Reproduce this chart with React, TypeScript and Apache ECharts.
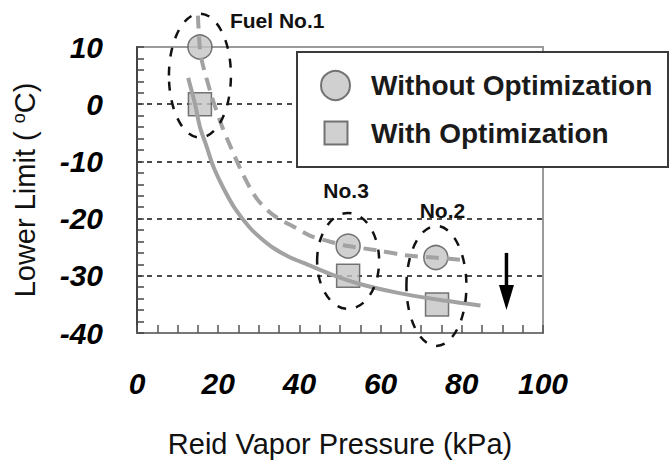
import React, { useEffect, useRef } from 'react';
import * as echarts from 'echarts';

const FONT = 'Arial, "Liberation Sans", Helvetica, sans-serif';

// Fuel labels
const fuelNames = ['Fuel No.1', 'No.3', 'No.2'];
// Measured points: [Reid vapor pressure (kPa), lower limit (°C)]
const withoutOpt = [
  [15.5, 10],
  [52, -24.8],
  [73.6, -26.8],
];
const withOpt = [
  [15.5, 0],
  [52, -30],
  [73.9, -35],
];
// Fitted trend curves
const fitWithout = [
  [15, 15.5],
  [15.4, 10.5],
  [15.9, 7.8],
  [18.4, 1.4],
  [20.9, -3.8],
  [22.9, -7.2],
  [26.2, -12.4],
  [29.5, -16.5],
  [33.6, -19.4],
  [39.3, -21.7],
  [43, -23.1],
  [49, -24.3],
  [52, -24.8],
  [59.6, -25.6],
  [66, -26.4],
  [73, -26.8],
  [80, -27.2],
];
const fitWith = [
  [12.6, 4.6],
  [14.3, 0],
  [15.5, -4],
  [17.2, -7.5],
  [18.8, -10.9],
  [21.3, -14.7],
  [24.1, -18.2],
  [27.8, -21.6],
  [30.3, -23.3],
  [33.5, -25.1],
  [37.5, -26.7],
  [41.9, -28],
  [48, -29.8],
  [54.2, -31.3],
  [63.7, -32.9],
  [73.5, -34.1],
  [84.6, -35.2],
];
// Arrow (downward trend) in data units
const arrowX = 91;
const arrowFrom = -26;
const arrowTo = -36;

const seriesNames = ['Without Optimization', 'With Optimization'];

export default function App() {
  const ref = useRef<HTMLDivElement>(null);

  useEffect(() => {
    const chart = echarts.init(ref.current!, null, { renderer: 'svg' });
    const markerStyle = { color: '#c4c4c4', borderColor: '#555', borderWidth: 1.5 };
    chart.setOption({
      animation: false,
      backgroundColor: '#fff',
      grid: {
        left: 137,
        right: 127,
        top: 47,
        bottom: 127,
        show: true,
        borderColor: '#9a9a9a',
        borderWidth: 2,
        backgroundColor: 'transparent',
      },
      legend: [
        {
          data: [seriesNames[0]],
          left: 320,
          top: 70,
          padding: 0,
          itemWidth: 29,
          itemHeight: 29,
          z: 4,
          textStyle: {
            fontFamily: FONT,
            fontSize: 28,
            fontWeight: 'bold',
            color: '#1a1a1a',
            lineHeight: 30,
            padding: [0, 0, 0, 16],
          },
        },
        {
          data: [seriesNames[1]],
          left: 323.5,
          top: 118,
          padding: 0,
          itemWidth: 23,
          itemHeight: 23,
          z: 4,
          textStyle: {
            fontFamily: FONT,
            fontSize: 28,
            fontWeight: 'bold',
            color: '#1a1a1a',
            lineHeight: 30,
            padding: [0, 0, 0, 18.5],
          },
        },
      ],
      xAxis: {
        type: 'value',
        min: 0,
        max: 100,
        interval: 20,
        name: 'Reid Vapor Pressure (kPa)',
        nameLocation: 'middle',
        nameGap: 96,
        nameTextStyle: { fontFamily: FONT, fontSize: 29, color: '#111' },
        axisLine: { show: true, onZero: false, lineStyle: { color: '#777', width: 2 } },
        axisTick: { show: true, inside: true, length: 8, lineStyle: { color: '#555', width: 1.5 } },
        minorTick: { show: true, splitNumber: 4, length: 8, lineStyle: { color: '#555', width: 1.5 } },
        axisLabel: {
          margin: 35,
          fontFamily: FONT,
          fontSize: 30,
          fontWeight: 'bold',
          fontStyle: 'italic',
          color: '#000',
        },
        splitLine: { show: false },
      },
      yAxis: {
        type: 'value',
        min: -40,
        max: 10,
        interval: 10,
        name: 'Lower Limit ( {s|o}C)',
        nameLocation: 'middle',
        nameGap: 98,
        nameTextStyle: {
          fontFamily: FONT,
          fontSize: 29,
          color: '#111',
          rich: {
            s: { fontFamily: FONT, fontSize: 18, color: '#111', verticalAlign: 'top', lineHeight: 18 },
          },
        },
        axisLine: { show: true, onZero: false, lineStyle: { color: '#444', width: 2 } },
        axisTick: { show: true, inside: true, length: 7, lineStyle: { color: '#444', width: 1.5 } },
        minorTick: { show: true, splitNumber: 5, length: 7, lineStyle: { color: '#444', width: 1.5 } },
        axisLabel: {
          margin: 34,
          fontFamily: FONT,
          fontSize: 30,
          fontWeight: 'bold',
          fontStyle: 'italic',
          color: '#000',
        },
        splitLine: {
          show: true,
          showMinLine: false,
          showMaxLine: false,
          lineStyle: { color: '#111', type: [5, 5], width: 1.5 },
        },
      },
      series: [
        {
          name: seriesNames[0],
          type: 'scatter',
          symbol: 'circle',
          symbolSize: 24,
          itemStyle: markerStyle,
          data: withoutOpt,
          z: 2,
          silent: true,
        },
        {
          name: seriesNames[1],
          type: 'scatter',
          symbol: 'rect',
          symbolSize: 23,
          itemStyle: markerStyle,
          data: withOpt,
          z: 2,
          silent: true,
        },
        {
          name: 'Trend without optimization',
          type: 'line',
          data: fitWithout,
          smooth: 0.3,
          symbol: 'none',
          showSymbol: false,
          clip: false,
          z: 3,
          silent: true,
          lineStyle: { color: '#a2a2a2', width: 4, type: [13, 8], cap: 'butt' },
        },
        {
          name: 'Trend with optimization',
          type: 'line',
          data: fitWith,
          smooth: 0.3,
          symbol: 'none',
          showSymbol: false,
          clip: false,
          z: 3,
          silent: true,
          lineStyle: { color: '#a2a2a2', width: 4 },
        },
      ],
    });

    const px = (p: number[]) => chart.convertToPixel({ gridIndex: 0 }, p) as number[];
    const ellipseSizes = [
      { rx: 31, ry: 62, dy: 0 },
      { rx: 31, ry: 48, dy: 0 },
      { rx: 30, ry: 60, dy: 5 },
    ];
    const labelOffsets = [
      { dx: 30, dy: -55, align: 'left' },
      { dx: -2, dy: -70, align: 'center' },
      { dx: 6, dy: -75, align: 'center' },
    ];
    const graphics: any[] = [
      {
        type: 'rect',
        z: 3,
        shape: { x: 297, y: 52, width: 371, height: 115 },
        style: { fill: '#fff', stroke: '#3a3a3a', lineWidth: 2 },
      },
    ];
    fuelNames.forEach((name, i) => {
      const a = px(withoutOpt[i]);
      const b = px(withOpt[i]);
      const s = ellipseSizes[i];
      const cx = (a[0] + b[0]) / 2;
      const cy = (a[1] + b[1]) / 2 + s.dy;
      graphics.push({
        type: 'ellipse',
        z: 6,
        shape: { cx, cy, rx: s.rx, ry: s.ry },
        style: { fill: 'none', stroke: '#111', lineWidth: 2.5, lineDash: [9, 10] },
      });
      const o = labelOffsets[i];
      graphics.push({
        type: 'text',
        z: 6,
        x: cx + o.dx,
        y: cy + o.dy,
        style: {
          text: name,
          font: `bold 21px ${FONT}`,
          fill: '#111',
          textAlign: o.align,
          textVerticalAlign: 'middle',
          align: o.align,
          verticalAlign: 'middle',
        },
      });
    });
    const top = px([arrowX, arrowFrom]);
    const tip = px([arrowX, arrowTo]);
    const headH = 25;
    const headW = 7.5;
    graphics.push({
      type: 'line',
      z: 6,
      shape: { x1: top[0], y1: top[1], x2: tip[0], y2: tip[1] - headH + 2 },
      style: { stroke: '#000', lineWidth: 3.5 },
    });
    graphics.push({
      type: 'polygon',
      z: 6,
      shape: {
        points: [
          [tip[0] - headW, tip[1] - headH],
          [tip[0] + headW, tip[1] - headH],
          [tip[0], tip[1]],
        ],
      },
      style: { fill: '#000' },
    });
    chart.setOption({ graphic: graphics });

    return () => chart.dispose();
  }, []);

  return (
    <div
      ref={ref}
      style={{ position: 'fixed', left: 0, top: 0, width: 670, height: 463 }}
    />
  );
}
